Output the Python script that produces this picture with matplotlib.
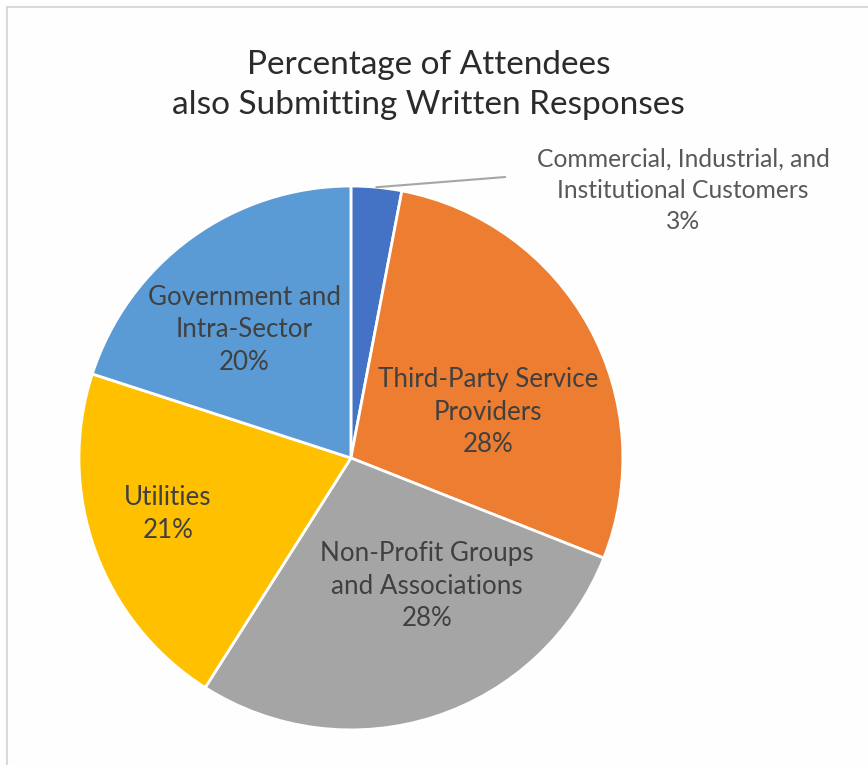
import matplotlib
matplotlib.use("Agg")
import numpy as np
import matplotlib.pyplot as plt
from matplotlib.patches import Rectangle

plt.rcParams["font.family"] = ["Lato", "DejaVu Sans"]

# slices go clockwise from 12 o'clock
categories = [
    "Commercial, Industrial, and\nInstitutional Customers",
    "Third-Party Service\nProviders",
    "Non-Profit Groups\nand Associations",
    "Utilities",
    "Government and\nIntra-Sector",
]
shares = [3, 28, 28, 21, 20]
colors = ["#4472C4", "#ED7D31", "#A5A5A5", "#FFC000", "#5B9BD5"]

# label centres in pie-radius units
label_pos = [(1.221, 0.985), (0.504, 0.169), (0.279, -0.471), (-0.673, -0.206), (-0.393, 0.471)]
leader_end = (0.566, 1.033)

fig = plt.figure(figsize=(8.68, 7.65), dpi=100, facecolor="#FEFEFE")
ax = fig.add_axes([0, 0, 1, 1])
ax.set_facecolor("none")

wedges, _ = ax.pie(
    shares,
    colors=colors,
    startangle=90,
    counterclock=False,
    radius=1.0,
    wedgeprops=dict(edgecolor="white", linewidth=2),
)

for i, (name, val) in enumerate(zip(categories, shares)):
    x, y = label_pos[i]
    if i == 0:
        ax.text(x, y, f"{name}\n{val}%", ha="center", va="center",
                fontsize=17.7, color="#595959", linespacing=1.43)
    else:
        ax.text(x, y, f"{name}\n{val}%", ha="center", va="center",
                fontsize=18.7, color="#404040", linespacing=1.36)

# leader line for the thin slice
w = wedges[0]
mid = np.deg2rad((w.theta1 + w.theta2) / 2)
ax.plot([np.cos(mid), leader_end[0]], [np.sin(mid), leader_end[1]],
        color="#A6A6A6", lw=1.5)

ax.set_xlim(-1.290, 1.901)
ax.set_ylim(-1.129, 1.684)
ax.set_aspect("equal")
ax.axis("off")

fig.text(0.494, 0.889, "Percentage of Attendees\nalso Submitting Written Responses",
         ha="center", va="center", fontsize=24, color="#2B2B2B", linespacing=1.42)

# chart frame
fig.patches.append(Rectangle((7 / 868, -0.1), 1.2, 1 - 7 / 765 + 0.1,
                             transform=fig.transFigure, fill=False,
                             edgecolor="#D9D9D9", lw=1.5))

fig.savefig("out.png", dpi=100, facecolor=fig.get_facecolor())
